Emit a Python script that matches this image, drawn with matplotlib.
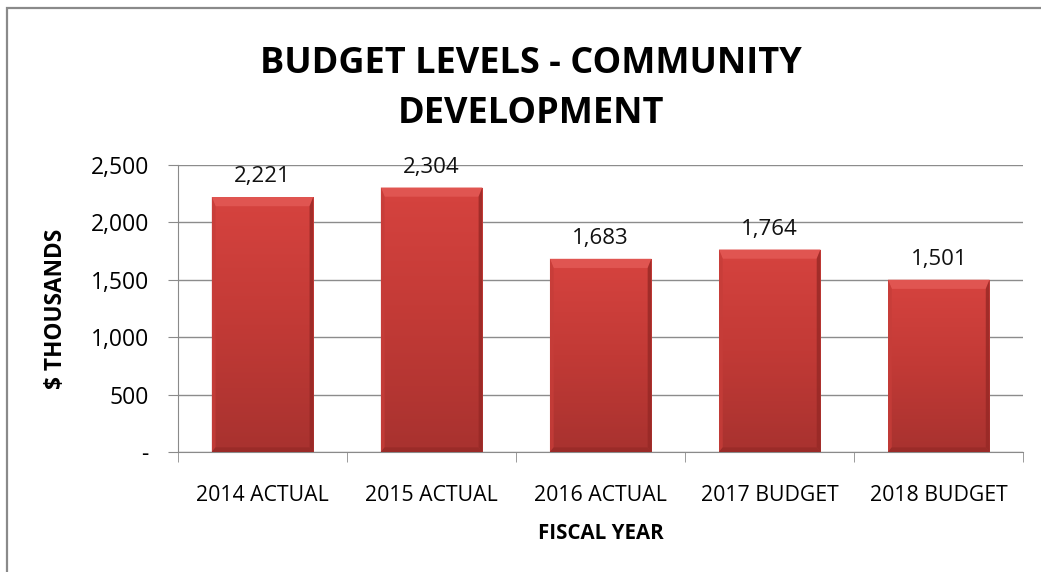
import numpy as np
import matplotlib.pyplot as plt
from matplotlib.patches import Rectangle
from matplotlib.colors import LinearSegmentedColormap

categorias = ['2014 ACTUAL', '2015 ACTUAL', '2016 ACTUAL', '2017 BUDGET', '2018 BUDGET']
valores = [2221, 2304, 1683, 1764, 1501]
ticks_y = [0, 500, 1000, 1500, 2000, 2500]
rotulos_y = ['-', '500', '1,000', '1,500', '2,000', '2,500']

plt.rcParams['font.family'] = ['Open Sans', 'DejaVu Sans']

fig = plt.figure(figsize=(10.41, 5.72), dpi=100)
ax = fig.add_axes([0.171, 0.2098, 0.812, 0.5017])

# moldura externa do grafico (so aparece em cima e a esquerda)
fig.patches.append(Rectangle((7 / 1041, -0.1), 1.2, 1 - 8 / 572 + 0.1,
                             transform=fig.transFigure, fill=False,
                             edgecolor='#8a8a8a', linewidth=1.6))

x = np.arange(len(categorias))
largura = 0.6
barras = ax.bar(x, valores, width=largura, color='#c53a36',
                edgecolor='#a02e2b', linewidth=0.6, zorder=2)

# degrade vertical em cada barra, mais claro no topo
cmap = LinearSegmentedColormap.from_list('verm', ['#a8322f', '#c23a36', '#d6433f'])
grad = np.linspace(0, 1, 256).reshape(-1, 1)
bx, by = 0.022, 80   # espessura do bisel (lados, topo)
for b in barras:
    x0, w, h = b.get_x(), b.get_width(), b.get_height()
    x1 = x0 + w
    im = ax.imshow(grad, cmap=cmap, origin='lower', aspect='auto',
                   extent=(x0, x1, 0, h), zorder=2.5)
    im.set_clip_path(b)
    # bisel claro no topo
    ax.fill([x0, x1, x1 - bx, x0 + bx], [h, h, h - by, h - by],
            color='#e05551', zorder=3, lw=0)
    # laterais e base
    ax.fill([x0, x0 + bx, x0 + bx, x0], [0, 40, h - by, h],
            color='#c63d39', alpha=0.8, zorder=3, lw=0)
    ax.fill([x1, x1 - bx, x1 - bx, x1], [0, 40, h - by, h],
            color='#962825', alpha=0.8, zorder=3, lw=0)
    ax.fill([x0, x1, x1 - bx, x0 + bx], [0, 0, 40, 40],
            color='#9a2b28', zorder=3, lw=0)
    ax.annotate(f'{h:,.0f}', (x0 + w / 2, h), xytext=(0, 7),
                textcoords='offset points', ha='center', va='bottom',
                fontsize=16, color='#111111')

ax.set_xlim(-0.5, len(categorias) - 0.5)
ax.set_ylim(0, 2500)
ax.set_yticks(ticks_y)
ax.set_yticklabels(rotulos_y, fontsize=16.5)
ax.set_xticks(x)
ax.set_xticklabels(categorias, fontsize=15.3)
ax.set_xticks(np.arange(-0.5, len(categorias)), minor=True)
ax.tick_params(axis='x', which='major', length=0, pad=24)
ax.tick_params(axis='x', which='minor', length=7, color='#8a8a8a', direction='out')
ax.tick_params(axis='y', length=7, color='#8a8a8a', pad=14)

ax.grid(axis='y', color='#8c8c8c', linewidth=1, zorder=0)
ax.set_axisbelow(True)
for lado in ['top', 'right']:
    ax.spines[lado].set_visible(False)
ax.spines['left'].set_color('#8a8a8a')
ax.spines['bottom'].set_color('#8a8a8a')

ax.set_ylabel('$ THOUSANDS', fontsize=16.3, fontweight='bold', labelpad=16)
ax.set_xlabel('FISCAL YEAR', fontsize=14.8, fontweight='bold', labelpad=12)

fig.text(0.51, 0.844, 'BUDGET LEVELS - COMMUNITY\nDEVELOPMENT', ha='center',
         va='center', fontsize=26, fontweight='bold', linespacing=1.52)

fig.savefig('out.png', dpi=100)
